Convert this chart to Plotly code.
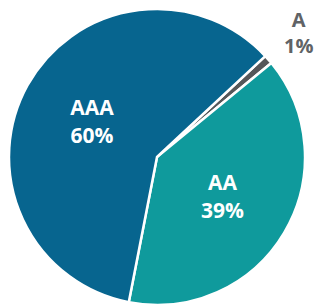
import plotly.graph_objects as go

labels = ["A", "AA", "AAA"]
values = [1, 39, 60]
colors = ["#555759", "#0f9a9c", "#07658f"]
text_colors = ["#606366", "#ffffff", "#ffffff"]
positions = ["none", "inside", "inside"]

total = sum(values)

fig = go.Figure(go.Pie(
    labels=labels,
    values=values,
    sort=False,
    direction="clockwise",
    rotation=47,
    marker=dict(colors=colors, line=dict(color="#ffffff", width=2.5)),
    texttemplate="<b>%{label}<br>%{percent:.0%}</b>",
    textposition=positions,
    insidetextorientation="horizontal",
    textfont=dict(family="Open Sans", size=21, color=text_colors),
    showlegend=False,
    domain=dict(x=[9/315, 305/315], y=[0, 296/305]),
    hoverinfo="skip",
))

# outside label for the small slice
fig.add_annotation(
    x=298, y=32, xref="x", yref="y",
    text="<b>%s<br>%d%%</b>" % (labels[0], round(values[0] / total * 100)),
    showarrow=False,
    font=dict(family="Open Sans", size=20, color=text_colors[0]),
    align="center",
)

fig.update_layout(
    width=315, height=305,
    margin=dict(l=0, r=0, t=0, b=0),
    paper_bgcolor="white",
    plot_bgcolor="white",
    xaxis=dict(visible=False, range=[0, 315], domain=[0, 1], fixedrange=True),
    yaxis=dict(visible=False, range=[305, 0], domain=[0, 1], fixedrange=True),
)

fig.write_html(
    "out.html",
    config={"displayModeBar": False, "staticPlot": True},
    post_script="document.body.style.margin='0px';document.body.style.overflow='hidden';",
)
